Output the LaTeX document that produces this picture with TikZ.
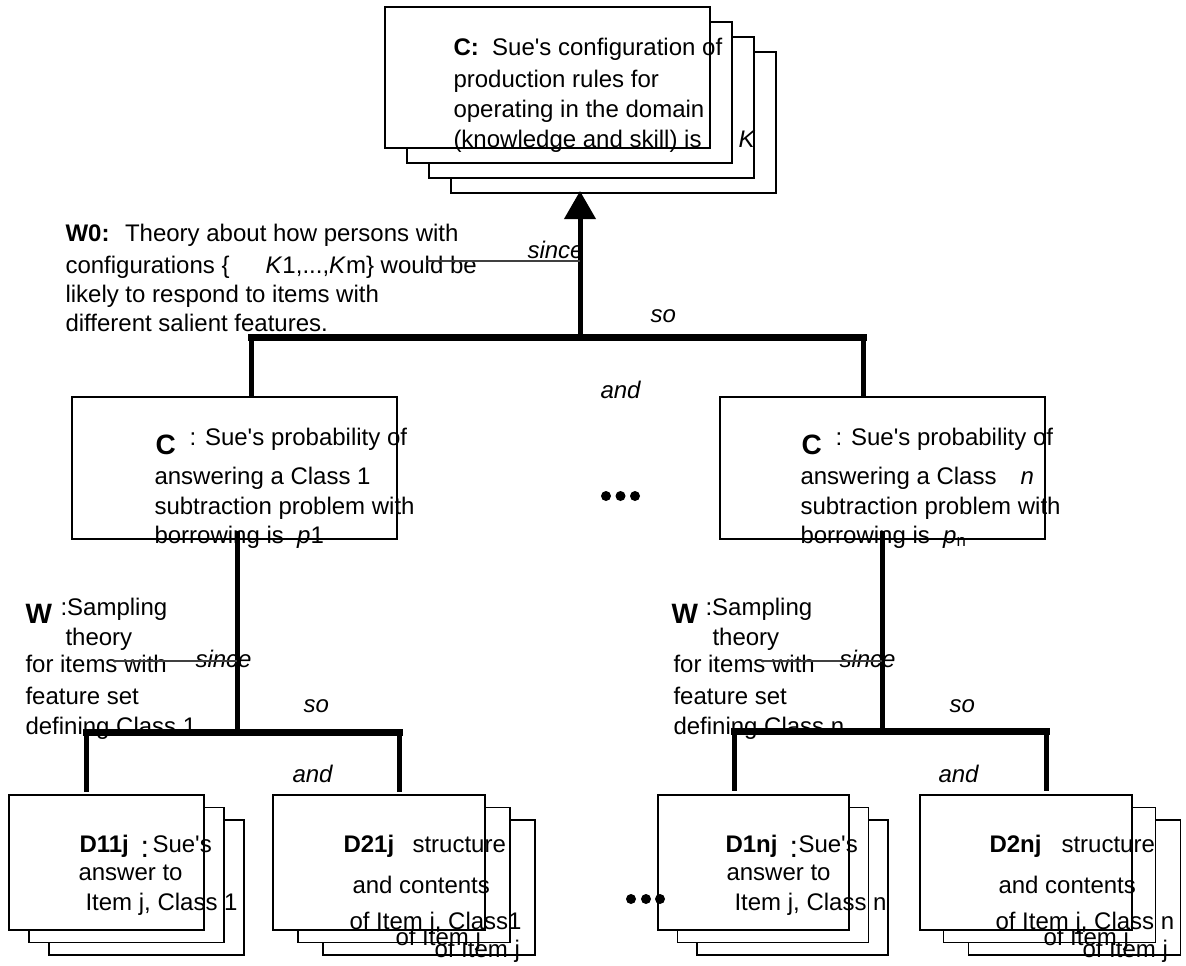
\documentclass[tikz,border=0pt]{standalone}
\usepackage{fontspec}
\setmainfont{Liberation Sans}
\usetikzlibrary{arrows.meta}

\tikzset{every picture/.style={line width=0.75pt}}
\tikzset{
  card/.style={draw, fill=white, line width=1.2pt, inner sep=0pt, outer sep=0pt},
  bigcard/.style={card, minimum width=243.75pt, minimum height=105.75pt},
  dcard/.style={card, minimum height=101.25pt},
  txt/.style={anchor=base west, inner sep=0pt, font=\fontsize{18}{22}\selectfont},
  lbl/.style={anchor=base west, inner sep=0pt, font=\fontsize{18}{22}\selectfont\itshape},
  bigletter/.style={anchor=base west, inner sep=0pt, font=\fontsize{21}{22}\selectfont\bfseries},
  bigcolon/.style={anchor=base west, inner sep=0pt, font=\fontsize{23}{24}\selectfont},
  stem/.style={line width=3.75pt},
  bar/.style={line width=5.25pt, line cap=rect},
  hair/.style={line width=0.8pt, black!75},
}
\newcommand{\apos}{\textquotesingle}

\begin{document}
\begin{tikzpicture}[x=0.75pt,y=0.75pt,yscale=-1,xscale=1]
		\useasboundingbox (0,0) rectangle (1186,965);

		% Top stack: claim C
		\node[bigcard] (top4) at (613.5,122.5) {};
		\node[bigcard] (top3) at (591.5,107.5) {};
		\node[bigcard] (top2) at (569.5,92.5) {};
		\node[bigcard] (top1) at (547.5,77.5) {};
		\node[txt] (c0a) at (453,55) {\textbf{C:}~ Sue\apos s configuration of};
		\node[txt] (c0b) at (453,87) {production rules for};
		\node[txt] (c0c) at (453,117) {operating in the domain};
		\node[txt] (c0d) at (453,147) {(knowledge and skill) is};
		\node[lbl] (c0k) at (738,147) {K};

		% Warrant W0
		\node[txt] (w0a) at (65,241) {\textbf{W0:}~ Theory about how persons with};
		\node[txt] (w0b) at (65,273) {configurations \{\hspace{1.5em}\textit{K}1,...,\textit{K}m\} would be};
		\node[txt] (w0c) at (65,302) {likely to respond to items with};
		\node[txt] (w0d) at (65,331) {different salient features.};
		\node[lbl] (since0) at (527,258) {since};
		\node[lbl] (so0) at (650,322) {so};
		\node[lbl] (and0) at (600,398) {and};

		% Middle claims
		\node[bigcard, minimum height=106.5pt] (cl) at (234.5,468) {};
		\node[bigcard, minimum height=106.5pt] (cr) at (882.5,468) {};

		\node[bigletter] (cla) at (155,454) {C};
		\node[txt] (clb) at (189,445) {: Sue\apos s probability of};
		\node[txt] (clc) at (154,484) {answering a Class 1};
		\node[txt] (cld) at (154,514) {subtraction problem with};
		\node[txt] (cle) at (154,543) {borrowing is\ \ \textit{p}1};

		\node[bigletter] (cra) at (801,454) {C};
		\node[txt] (crb) at (835,445) {: Sue\apos s probability of};
		\node[txt] (crc) at (800,484) {answering a Class};
		\node[lbl] (crn) at (1020,484) {n};
		\node[txt] (crd) at (800,514) {subtraction problem with};
		\node[txt] (cre) at (800,543) {borrowing is\ \ \textit{p}\textsubscript{n}};

		% Dots between the claims
		\fill (606,496) circle[radius=5];
		\fill (620.5,496) circle[radius=5];
		\fill (635,496) circle[radius=5];

		% Warrants W, left and right
		\node[bigletter] (wla) at (25,623) {W};
		\node[txt] (wlb) at (60,615) {:Sampling};
		\node[txt] (wlc) at (65,645) {theory};
		\node[txt] (wld) at (25,672) {for items with};
		\node[txt] (wle) at (25,704) {feature set};
		\node[txt] (wlf) at (25,734) {defining Class 1};
		\node[lbl] (sincel) at (195,667) {since};
		\node[lbl] (sol) at (303,712) {so};
		\node[lbl] (andl) at (292,782) {and};

		\node[bigletter] (wra) at (671,623) {W};
		\node[txt] (wrb) at (705,615) {:Sampling};
		\node[txt] (wrc) at (712,645) {theory};
		\node[txt] (wrd) at (673,672) {for items with};
		\node[txt] (wre) at (673,704) {feature set};
		\node[txt] (wrf) at (673,734) {defining Class n};
		\node[lbl] (sincer) at (839,667) {since};
		\node[lbl] (sor) at (949,712) {so};
		\node[lbl] (andr) at (938,782) {and};

		% Data stacks
		\node[dcard, minimum width=146.25pt] (d11c) at (146.5,887.5) {};
		\node[dcard, minimum width=146.25pt] (d11b) at (126.5,875) {};
		\node[dcard, minimum width=146.25pt] (d11a) at (106.5,862.5) {};
		\node[txt] (d11t) at (79,852) {\textbf{D11j}};
		\node[bigcolon] (d11s) at (140,857) {:};
		\node[txt] (d11u) at (152,852) {Sue\apos s};
		\node[txt] (d11v) at (78,880) {answer to};
		\node[txt] (d11w) at (85,910) {Item j, Class 1};

		\node[dcard, minimum width=159pt] (d21c) at (429,887.5) {};
		\node[txt] (d21y) at (434,957) {of Item j};
		\node[dcard, minimum width=159pt] (d21b) at (404,875) {};
		\node[txt] (d21x) at (395,945) {of Item j};
		\node[dcard, minimum width=159pt] (d21a) at (379,862.5) {};
		\node[txt] (d21t) at (343,852) {\textbf{D21j}};
		\node[txt] (d21u) at (412,852) {structure};
		\node[txt] (d21v) at (352,893) {and contents};
		\node[txt] (d21w) at (349,929) {of Item j, Class1};

		\node[dcard, minimum width=143.25pt] (d1nc) at (792.5,887.5) {};
		\node[dcard, minimum width=143.25pt] (d1nb) at (773,875) {};
		\node[dcard, minimum width=143.25pt] (d1na) at (753.5,862.5) {};
		\node[txt] (d1nt) at (725,852) {\textbf{D1nj}};
		\node[bigcolon] (d1ns) at (789,857) {:};
		\node[txt] (d1nu) at (798,852) {Sue\apos s};
		\node[txt] (d1nv) at (726,880) {answer to};
		\node[txt] (d1nw) at (734,910) {Item j, Class n};

		\node[dcard, minimum width=159pt] (d2nc) at (1074.5,887.5) {};
		\node[txt] (d2ny) at (1082,957) {of Item j};
		\node[dcard, minimum width=159pt] (d2nb) at (1049.5,875) {};
		\node[txt] (d2nx) at (1043,945) {of Item j};
		\node[dcard, minimum width=159pt] (d2na) at (1026,862.5) {};
		\node[txt] (d2nt) at (989,852) {\textbf{D2nj}};
		\node[txt] (d2nu) at (1061,852) {structure};
		\node[txt] (d2nv) at (998,893) {and contents};
		\node[txt] (d2nw) at (995,929) {of Item j, Class n};

		% Dots between the data stacks
		\fill (631,899) circle[radius=5];
		\fill (646,899) circle[radius=5];
		\fill (660,899) circle[radius=5];

		% Connectors, top
		\coordinate (jt) at (580,337.5);
		\coordinate (ul) at (251,337.5);
		\coordinate (ur) at (863.5,337.5);
		\draw[bar] (ul) -- (ur);
		\draw[stem] (ul) -- (ul |- cl.north);
		\draw[stem] (ur) -- (ur |- cr.north);
		\draw[stem, -{Triangle[width=23pt,length=21pt]}] (jt) -- ([yshift=-1.5pt]top4.south -| jt);
		\coordinate (h0) at (426,261);
		\draw[hair] (h0) -- (h0 -| jt);

		% Connectors, left
		\coordinate (jl) at (237,732);
		\coordinate (bl1) at (86.5,732);
		\coordinate (bl2) at (399,732);
		\draw[stem] (jl) -- ([yshift=-6pt]cl.south -| jl);
		\draw[bar] (bl1) -- (bl2);
		\draw[stem, shorten >=2pt] (bl1) -- (bl1 |- d11a.north);
		\draw[stem, shorten >=2pt] (bl2) -- (bl2 |- d21a.north);
		\coordinate (hl) at (113,661);
		\draw[hair] (hl) -- (hl -| jl);

		% Connectors, right
		\coordinate (jr) at (882,731);
		\coordinate (br1) at (734,731);
		\coordinate (br2) at (1046,731);
		\draw[stem] (jr) -- ([yshift=-6pt]cr.south -| jr);
		\draw[bar] (br1) -- (br2);
		\draw[stem, shorten >=3pt] (br1) -- (br1 |- d1na.north);
		\draw[stem, shorten >=3pt] (br2) -- (br2 |- d2na.north);
		\coordinate (hr) at (761,661);
		\draw[hair] (hr) -- (hr -| jr);

\end{tikzpicture}
\end{document}
